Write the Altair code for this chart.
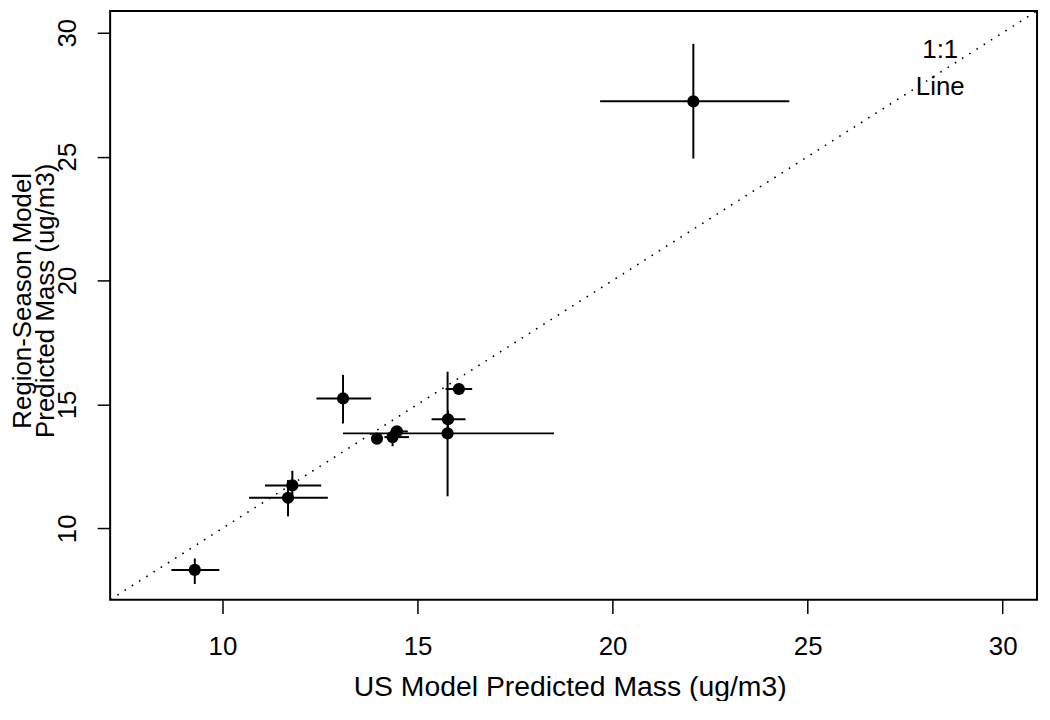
import altair as alt
import pandas as pd

# ---- data ----
us_mass = [9.29, 11.79, 11.68, 13.09, 13.96, 14.36, 14.47, 15.77, 15.78, 16.06, 22.07]
us_lo = [8.69, 11.09, 10.68, 12.41, 13.85, 14.15, 14.30, 13.09, 15.36, 15.72, 19.68]
us_hi = [9.92, 12.53, 12.70, 13.81, 14.08, 14.78, 14.75, 18.50, 16.23, 16.40, 24.53]
rs_mass = [8.32, 11.73, 11.23, 15.24, 13.62, 13.68, 13.91, 13.83, 14.40, 15.62, 27.23]
rs_lo = [7.75, 11.20, 10.48, 14.23, 13.50, 13.31, 13.80, 11.29, 14.05, 15.40, 24.92]
rs_hi = [8.78, 12.32, 11.95, 16.19, 13.75, 14.05, 14.05, 16.32, 14.75, 15.85, 29.55]

axis_min = 7.12
axis_max = 30.88
tick_values = [10, 15, 20, 25, 30]
one_to_one = [axis_min, axis_max]
note_text = ["1:1", "Line"]
note_x = [28.4, 28.4]
note_y = [29.3, 27.8]

FONT = "Liberation Sans"

df = pd.DataFrame({
    "us": us_mass, "us_lo": us_lo, "us_hi": us_hi,
    "rs": rs_mass, "rs_lo": rs_lo, "rs_hi": rs_hi,
})
line_df = pd.DataFrame({"a": one_to_one, "b": one_to_one})
note_df = pd.DataFrame({"t": note_text, "x": note_x, "y": note_y})

xscale = alt.Scale(domain=[axis_min, axis_max], nice=False, zero=False)
yscale = alt.Scale(domain=[axis_min, axis_max], nice=False, zero=False)

xaxis = alt.Axis(
    values=tick_values, format="d", grid=False, domain=False,
    tickSize=14, tickWidth=1.5, tickColor="black",
    labelFont=FONT, labelFontSize=26, labelColor="black", labelPadding=20.6,
    labelFlush=False,
    title="US Model Predicted Mass (ug/m3)",
    titleFont=FONT, titleFontSize=28.5, titleFontWeight="normal", titleColor="black",
    titleX=462, titleY=96, titleAlign="center", titleBaseline="alphabetic",
)
yaxis = alt.Axis(
    values=tick_values, format="d", grid=False, domain=False,
    tickSize=13, tickWidth=1.5, tickColor="black",
    labelFont=FONT, labelFontSize=26, labelColor="black", labelPadding=22,
    labelAngle=270, labelAlign="center", labelBaseline="alphabetic",
    labelFlush=False,
    title=["Region-Season Model", "Predicted Mass (ug/m3)"],
    titleFont=FONT, titleFontSize=26, titleFontWeight="normal", titleColor="black",
    titleAngle=270, titleX=-79.7, titleY=291, titleAlign="center",
    titleBaseline="alphabetic", titleLineHeight=23,
)

base = alt.Chart(df)

diag = alt.Chart(line_df).mark_line(
    color="black", strokeWidth=1.6, strokeDash=[1.6, 7], clip=True
).encode(
    x=alt.X("a:Q", scale=xscale, axis=xaxis),
    y=alt.Y("b:Q", scale=yscale, axis=yaxis),
)

hbars = base.mark_rule(color="black", strokeWidth=2).encode(
    x=alt.X("us_lo:Q", scale=xscale), x2="us_hi:Q", y=alt.Y("rs:Q", scale=yscale)
)
vbars = base.mark_rule(color="black", strokeWidth=2).encode(
    x=alt.X("us:Q", scale=xscale), y=alt.Y("rs_lo:Q", scale=yscale), y2="rs_hi:Q"
)
pts = base.mark_circle(color="black", opacity=1, size=150).encode(
    x=alt.X("us:Q", scale=xscale), y=alt.Y("rs:Q", scale=yscale)
)
note = alt.Chart(note_df).mark_text(
    font=FONT, fontSize=26, color="black", align="center", baseline="middle"
).encode(
    x=alt.X("x:Q", scale=xscale), y=alt.Y("y:Q", scale=yscale), text="t:N"
)

chart = alt.layer(diag, hbars, vbars, pts, note).properties(
    width=932, height=592,
    autosize=alt.AutoSizeParams(type="none"),
    padding={"left": 102.7, "top": 1, "right": 5, "bottom": 100},
    background="white",
).configure_view(stroke="black", strokeWidth=2)

chart.save("out.html", embed_options={"renderer": "svg", "actions": False})
